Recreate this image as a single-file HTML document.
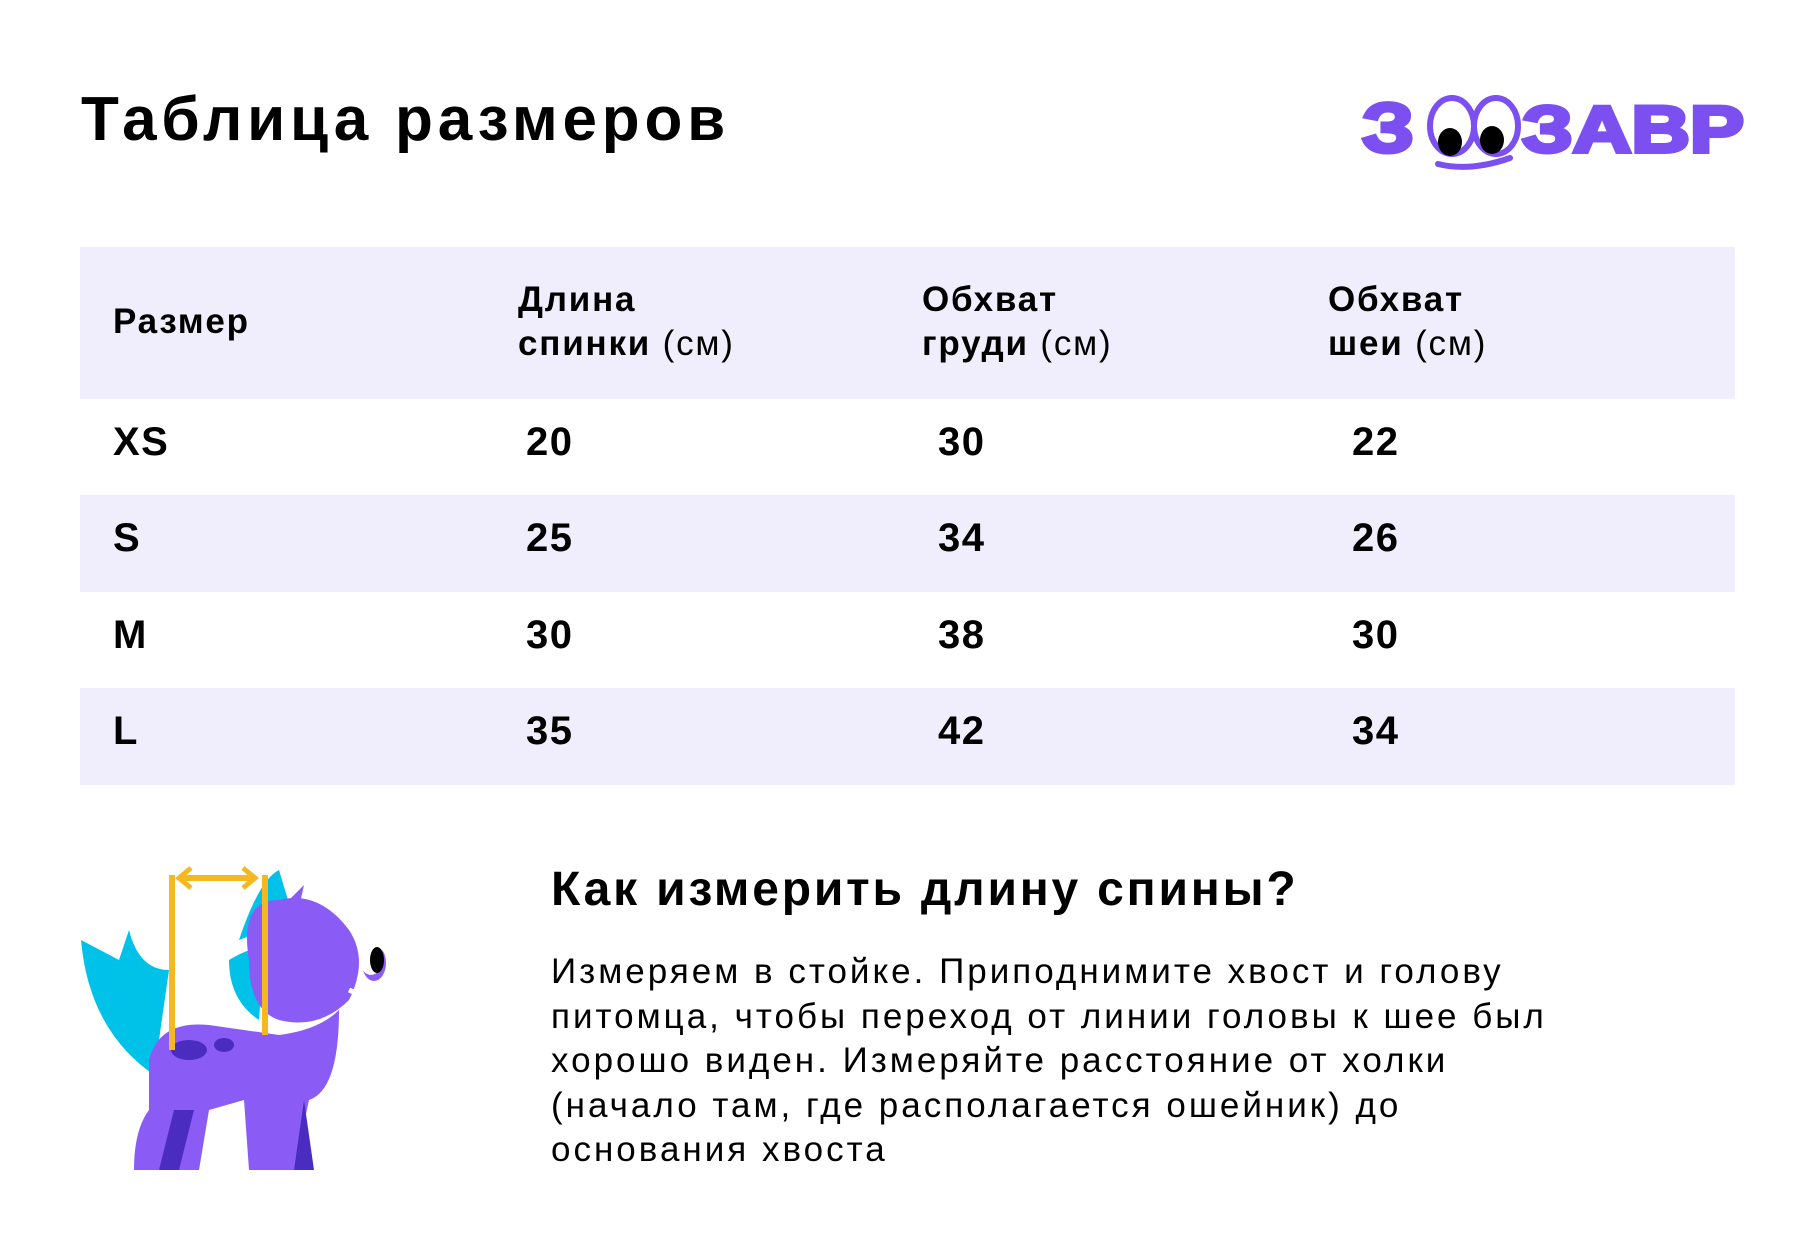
<!DOCTYPE html>
<html><head><meta charset="utf-8"><style>
body{margin:0;width:1814px;height:1252px;background:#fff;font-family:"Liberation Sans","DejaVu Sans",sans-serif;color:#000;position:relative;overflow:hidden}
.a{position:absolute;white-space:nowrap}
.t{font-weight:bold;font-size:62px;left:81px;top:84px;letter-spacing:4.8px}
.band{position:absolute;left:80px;width:1655px;background:#f0eefc}
.h{font-weight:bold;font-size:35px;line-height:44px;letter-spacing:1.8px}
.h span{font-weight:normal}
.n{font-weight:bold;font-size:40px;letter-spacing:1.5px}
.sub{font-weight:bold;font-size:48px;left:551px;top:862px;letter-spacing:2.8px}
.p{left:551px;top:950px;font-size:35px;line-height:44.5px;letter-spacing:3px}
</style></head><body>
<div class="a t">Таблица размеров</div>
<svg class="a" style="left:1360px;top:88px" width="390" height="82" viewBox="0 0 390 82">
<text x="2" y="64" font-family="Liberation Sans" font-weight="bold" font-size="70" fill="#7b4ff0" stroke="#7b4ff0" stroke-width="4" textLength="52" lengthAdjust="spacingAndGlyphs">З</text>
<text x="162" y="64" font-family="Liberation Sans" font-weight="bold" font-size="66" fill="#7b4ff0" stroke="#7b4ff0" stroke-width="4" textLength="222" lengthAdjust="spacingAndGlyphs">ЗАВР</text>
<ellipse cx="92" cy="38" rx="22" ry="28" fill="none" stroke="#7b4ff0" stroke-width="6"/>
<ellipse cx="136" cy="38" rx="22" ry="28" fill="none" stroke="#7b4ff0" stroke-width="6"/>
<ellipse cx="90" cy="54" rx="12" ry="14" fill="#000"/>
<ellipse cx="132" cy="52" rx="12" ry="14" fill="#000"/>
<path d="M78 76 Q110 84 150 70" stroke="#7b4ff0" stroke-width="6" fill="none" stroke-linecap="round"/>
</svg>
<div class="band" style="top:247px;height:152px"></div>
<div class="band" style="top:495px;height:97px"></div>
<div class="band" style="top:688px;height:97px"></div>
<div class="a h" style="left:113px;top:300px">Размер</div>
<div class="a h" style="left:518px;top:278px">Длина<br>спинки <span>(см)</span></div>
<div class="a h" style="left:922px;top:278px">Обхват<br>груди <span>(см)</span></div>
<div class="a h" style="left:1328px;top:278px">Обхват<br>шеи <span>(см)</span></div>
<div class="a n" style="left:113px;top:420px">XS</div><div class="a n" style="left:526px;top:420px">20</div><div class="a n" style="left:938px;top:420px">30</div><div class="a n" style="left:1352px;top:420px">22</div>
<div class="a n" style="left:113px;top:516px">S</div><div class="a n" style="left:526px;top:516px">25</div><div class="a n" style="left:938px;top:516px">34</div><div class="a n" style="left:1352px;top:516px">26</div>
<div class="a n" style="left:113px;top:613px">M</div><div class="a n" style="left:526px;top:613px">30</div><div class="a n" style="left:938px;top:613px">38</div><div class="a n" style="left:1352px;top:613px">30</div>
<div class="a n" style="left:113px;top:709px">L</div><div class="a n" style="left:526px;top:709px">35</div><div class="a n" style="left:938px;top:709px">42</div><div class="a n" style="left:1352px;top:709px">34</div>
<svg class="a" style="left:79px;top:860px" width="330" height="320" viewBox="0 0 330 320">
<path d="M2 80 Q10 170 75 215 L90 110 Q60 110 50 70 L40 100 Z" fill="#00c2e8"/>
<path d="M160 80 Q180 20 200 10 L215 60 Z" fill="#00c2e8"/>
<path d="M150 100 Q175 85 185 90 L180 160 Q150 140 150 100Z" fill="#00c2e8"/>
<path d="M70 200 Q80 160 130 165 L200 175 Q240 170 260 150 Q260 230 230 240 L215 310 L170 310 L165 240 L130 250 L120 310 L55 310 Q55 270 70 250 Z" fill="#8a5cf5"/>
<path d="M170 100 Q160 40 200 40 Q240 30 270 70 Q290 100 270 140 Q240 170 200 160 Q170 150 170 100Z" fill="#8a5cf5"/>
<path d="M200 50 L225 25 L215 70Z" fill="#8a5cf5"/>
<ellipse cx="295" cy="103" rx="12" ry="18" fill="#8a5cf5"/>
<ellipse cx="292" cy="97" rx="12" ry="18" fill="#fff"/>
<ellipse cx="298" cy="100" rx="7" ry="13" fill="#000"/>
<path d="M270 130 Q290 140 320 130" stroke="#fff" stroke-width="5" fill="none"/>
<ellipse cx="110" cy="190" rx="18" ry="10" fill="#4a2cc0"/><ellipse cx="145" cy="185" rx="10" ry="7" fill="#4a2cc0"/>
<path d="M95 250 L80 310 L100 310 L115 250Z" fill="#4a2cc0"/>
<path d="M225 240 L215 310 L235 310 Z" fill="#4a2cc0"/>
<rect x="90" y="15" width="6" height="175" fill="#f5b820"/>
<rect x="183" y="15" width="6" height="160" fill="#f5b820"/>
<path d="M103 18 L173 18" stroke="#f5b820" stroke-width="6"/>
<path d="M112 8 L100 18 L112 28 M164 8 L176 18 L164 28" stroke="#f5b820" stroke-width="5" fill="none"/>
</svg>
<div class="a sub">Как измерить длину спины?</div>
<div class="a p">Измеряем в стойке. Приподнимите хвост и голову<br>питомца, чтобы переход от линии головы к шее был<br>хорошо виден. Измеряйте расстояние от холки<br>(начало там, где располагается ошейник) до<br>основания хвоста</div>
</body></html>
